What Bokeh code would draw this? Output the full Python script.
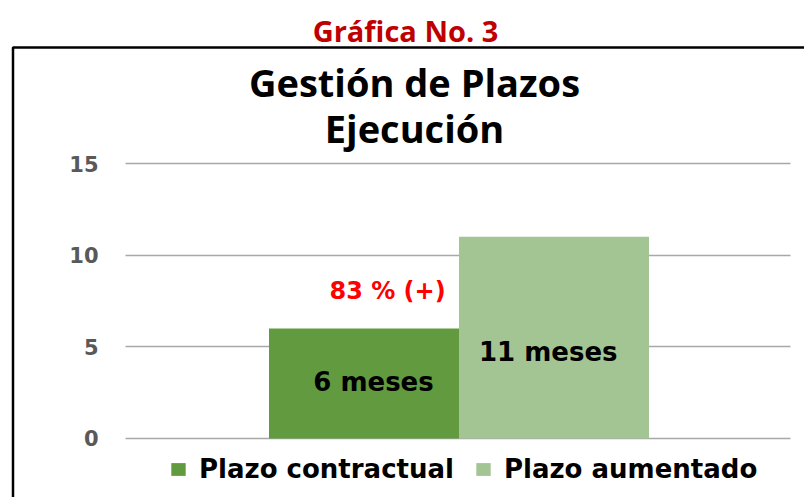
from bokeh.plotting import figure
from bokeh.models import Range1d, FixedTicker, Label, BoxAnnotation, ColumnDataSource
from bokeh.embed import file_html
from bokeh.resources import INLINE

# ---- data ----
series = ["Plazo contractual", "Plazo aumentado"]
meses = [6, 11]
bar_labels = ["6 meses", "11 meses"]
colors = ["#629b3f", "#a3c593"]
y_ticks = [0, 5, 10, 15]
incremento = "83 % (+)"
page_title = "Gráfica No. 3"
chart_title = ["Gestión de Plazos", "Ejecución"]

# ---- layout ----
W, H = 804, 497
PX = 18.333   # pixels per month on the value axis
BX = 190.0    # pixels per bar slot
y_start = -(H - 438) / PX
y_end = 15 + 163 / PX
x_start = -363.5 / BX
x_end = x_start + W / BX


def xd(px):
    return x_start + px / BX


def yd(py):
    return 15 + (163 - py) / PX


p = figure(width=W, height=H, output_backend="svg", toolbar_location=None,
           x_range=Range1d(x_start, x_end), y_range=Range1d(y_start, y_end),
           x_axis_location=None, min_border_left=0, min_border_right=0,
           min_border_top=0, min_border_bottom=0)
p.outline_line_color = None
p.background_fill_color = "white"
p.border_fill_color = "white"

p.xgrid.visible = False
p.ygrid.ticker = FixedTicker(ticks=y_ticks)
p.ygrid.grid_line_color = "#a8a8a8"
p.ygrid.grid_line_width = 1.5
p.ygrid.cross_bounds = (xd(125), xd(790))

ax = p.yaxis[0]
ax.fixed_location = xd(125)
ax.ticker = FixedTicker(ticks=y_ticks)
ax.axis_line_color = None
ax.major_tick_line_color = None
ax.minor_tick_line_color = None
ax.major_tick_out = 0
ax.major_label_standoff = 27
ax.major_label_text_font = "DejaVu Sans"
ax.major_label_text_font_style = "bold"
ax.major_label_text_font_size = "21px"
ax.major_label_text_color = "#595959"

src = ColumnDataSource(dict(x=list(range(len(series))), top=meses, serie=series, color=colors))
p.vbar(x="x", top="top", width=1, bottom=0, fill_color="color", line_color=None,
       source=src, legend_field="serie")

lg = p.legend[0]
lg.orientation = "horizontal"
lg.location = (169, 13)
lg.padding = 0
lg.margin = 0
lg.spacing = 20
lg.border_line_color = None
lg.background_fill_alpha = 0
lg.glyph_width = 18
lg.glyph_height = 16
lg.label_standoff = 12
lg.label_text_font = "DejaVu Sans"
lg.label_text_font_style = "bold"
lg.label_text_font_size = "26px"
lg.label_text_color = "black"

# bar value labels
label_y = [3.1, 4.7]
label_dx = [0.05, -0.03]
for i, t in enumerate(bar_labels):
    p.add_layout(Label(x=i + label_dx[i], y=label_y[i], text=t, text_align="center",
                       text_baseline="middle", text_font="DejaVu Sans",
                       text_font_style="bold", text_font_size="26px", text_color="black"))

p.add_layout(Label(x=0.124, y=8.07, text=incremento, text_align="center",
                   text_baseline="middle", text_font="DejaVu Sans",
                   text_font_style="bold", text_font_size="24px", text_color="#ff0000"))

# titles
p.add_layout(Label(x=xd(405), y=yd(30), text=page_title, text_align="center",
                   text_baseline="middle", text_font="Open Sans",
                   text_font_style="bold", text_font_size="29px", text_color="#c00000"))
p.add_layout(Label(x=xd(414), y=yd(81), text=chart_title[0], text_align="center",
                   text_baseline="middle", text_font="Open Sans",
                   text_font_style="bold", text_font_size="38px", text_color="black"))
p.add_layout(Label(x=xd(414), y=yd(127), text=chart_title[1], text_align="center",
                   text_baseline="middle", text_font="Open Sans",
                   text_font_style="bold", text_font_size="38px", text_color="black"))

# chart frame border (left and top edges visible)
p.add_layout(BoxAnnotation(left=xd(12.5), right=xd(2000), top=yd(47), bottom=yd(2000),
                           fill_alpha=0, line_color="black", line_alpha=1.0,
                           line_width=2.5))

open("out.html", "w").write(file_html(p, INLINE))
